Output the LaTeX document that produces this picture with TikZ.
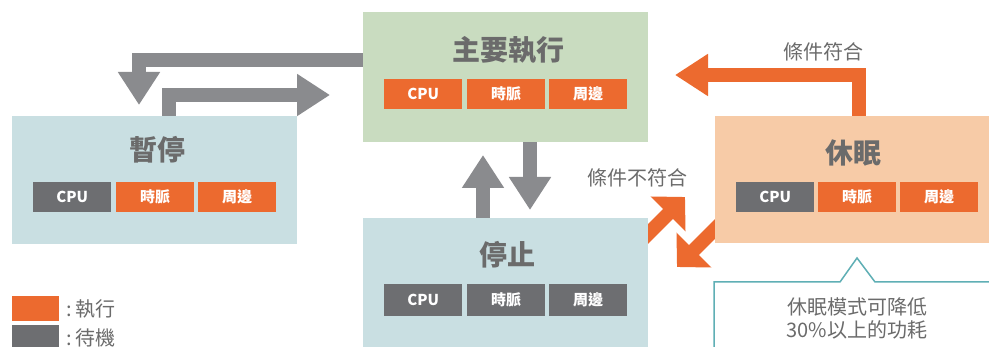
\documentclass[tikz,border=0pt]{standalone}
\usepackage{fontspec}
\setmainfont{Noto Sans CJK TC}
\usetikzlibrary{arrows.meta,calc}
\definecolor{orng}{HTML}{EC6A2F}
\definecolor{chipgray}{HTML}{6D6E71}
\definecolor{arrgray}{HTML}{8A8B8E}
\definecolor{bluebox}{HTML}{C9DFE2}
\definecolor{greenbox}{HTML}{C9DCC0}
\definecolor{peachbox}{HTML}{F7CBA7}
\definecolor{txtgray}{HTML}{6B6B6B}
\definecolor{calloutc}{HTML}{5FAFB5}
\pgfdeclarelayer{background}
\pgfsetlayers{background,main}
\begin{document}
\begin{tikzpicture}[x=1pt,y=-1pt,
  statebox/.style={anchor=north west, inner sep=0pt, outer sep=0pt},
  chip/.style={anchor=north west, minimum width=78pt, minimum height=30pt, inner sep=0pt, text=white, font=\bfseries\fontsize{15}{15}\selectfont},
  titletext/.style={text=txtgray, font=\bfseries\fontsize{28}{30}\selectfont},
  lbl/.style={text=txtgray, font=\fontsize{20}{22}\selectfont},
  garrow/.style={draw=arrgray, line width=14pt, line join=miter, -{Triangle[length=33pt,width=40pt]}},
  oarrow/.style={draw=orng, line width=14pt, line join=miter, -{Triangle[length=33pt,width=40pt]}},
  odiag/.style={draw=orng, line width=14pt, -{Triangle[length=24pt,width=48pt]}}
]
\clip (0,0) rectangle (989,347);

% state boxes
\node[statebox, fill=bluebox, minimum width=285pt, minimum height=128pt] (pause) at (12,116) {};
\node[statebox, fill=greenbox, minimum width=285pt, minimum height=130pt] (main) at (363,12) {};
\node[statebox, fill=bluebox, minimum width=285pt, minimum height=140pt] (stop) at (363,218) {};
\node[statebox, fill=peachbox, minimum width=290pt, minimum height=127pt] (sleep) at (715,116) {};

% titles
\node[titletext] (tpause) at (157,150) {暫停};
\node[titletext] (tmain) at (508,50) {主要執行};
\node[titletext] (tstop) at (507,255) {停止};
\node[titletext] (tsleep) at (853,153) {休眠};

% chips
\node[chip, fill=chipgray] (pcpu) at (33,182) {CPU};
\node[chip, fill=orng] (pclk) at (116,182) {時脈};
\node[chip, fill=orng] (pper) at (198,182) {周邊};

\node[chip, fill=orng] (mcpu) at (384,79) {CPU};
\node[chip, fill=orng] (mclk) at (467,79) {時脈};
\node[chip, fill=orng] (mper) at (549,79) {周邊};

\node[chip, fill=chipgray, minimum height=32pt] (scpu) at (384,284) {CPU};
\node[chip, fill=chipgray, minimum height=32pt] (sclk) at (467,284) {時脈};
\node[chip, fill=chipgray, minimum height=32pt] (sper) at (549,284) {周邊};

\node[chip, fill=chipgray] (zcpu) at (736,182) {CPU};
\node[chip, fill=orng] (zclk) at (818,182) {時脈};
\node[chip, fill=orng] (zper) at (900,182) {周邊};

% free-end coordinates
\coordinate (t2) at (330,95);
\coordinate (ot) at (675,75);
\coordinate (d1s) at (636,246);
\coordinate (d1e) at (685,197);
\coordinate (d2s) at (726,218);
\coordinate (d2e) at (677,267);

\begin{pgfonlayer}{background}
\fill[white] (0,0) rectangle (989,347);
\draw[garrow, shorten >=11pt] ([yshift=-48pt]main.north west) -| ([xshift=127pt]pause.north west);
\draw[garrow] ([xshift=157pt]pause.north west) |- (t2);
\draw[garrow, shorten >=13pt] ([xshift=120pt]stop.north west) -- ([xshift=120pt]main.south west);
\draw[garrow, shorten >=8pt] ([xshift=167pt]main.south west) -- ([xshift=167pt]stop.north west);
\draw[oarrow] ([xshift=144pt]sleep.north west) |- (ot);
\draw[odiag] (d1s) -- (d1e);
\draw[odiag] (d2s) -- (d2e);
\end{pgfonlayer}

% labels
\node[lbl] (lab1) at (823,52) {條件符合};
\node[lbl] (lab2) at (637,178) {條件不符合};

% callout
\draw[calloutc, line width=1.5pt, fill=white] (714,352) -- (714,282) -- (840,282) -- (857,258) -- (875,282) -- (995,282);
\node[lbl] (c1) at (857,307) {休眠模式可降低};
\node[lbl] (c2) at (857,330) {30\%以上的功耗};

% legend
\node[statebox, fill=orng, minimum width=47pt, minimum height=25pt] (lgo) at (12,296) {};
\node[statebox, fill=chipgray, minimum width=47pt, minimum height=25pt] (lgg) at (12,325) {};
\node[lbl, anchor=west] (lgot) at ([xshift=4pt]lgo.east) {:\,執行};
\node[lbl, anchor=west] (lggt) at ([xshift=4pt]lgg.east) {:\,待機};
\end{tikzpicture}
\end{document}
